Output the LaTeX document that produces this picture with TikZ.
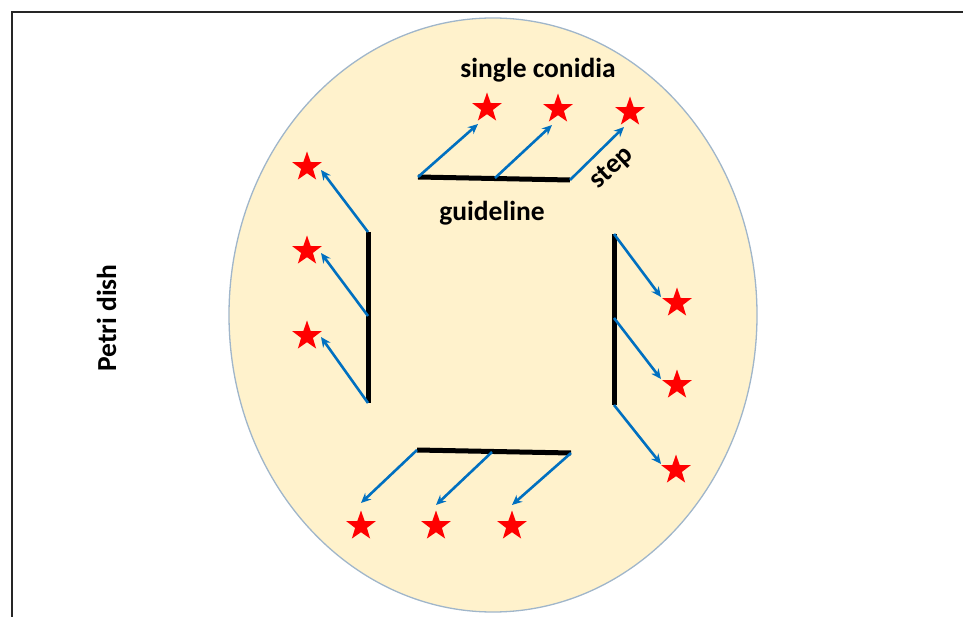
\documentclass[tikz,border=0pt]{standalone}
\usepackage{fontspec}
\setmainfont{Carlito}
\usetikzlibrary{shapes.geometric,arrows.meta}
\definecolor{dishfill}{RGB}{255,242,204}
\definecolor{dishline}{RGB}{160,182,202}
\definecolor{arrowblue}{RGB}{0,112,192}
\definecolor{conidred}{RGB}{255,0,0}
\tikzset{
  conidium/.style={star, star points=5, star point ratio=2.5, fill=conidred,
    draw=none, minimum size=31pt, inner sep=0pt},
  guide/.style={line width=5pt, black},
  spread/.style={arrowblue, line width=2.6pt, -{Stealth[length=10pt,width=9pt]}},
  lbl/.style={font=\bfseries\fontsize{27.5}{30}\selectfont, inner sep=0pt}
}
\begin{document}
\begin{tikzpicture}[x=1pt,y=-1pt]
\useasboundingbox (0,0) rectangle (963,617);
% frame
\draw[line width=2.4pt, black!85] (12,617) -- (12,12) -- (963,12);
% petri dish
\node[ellipse, draw=dishline, line width=1.3pt, fill=dishfill,
  minimum width=528pt, minimum height=594pt, inner sep=0pt] (dish) at (493,315) {};

% guidelines
\coordinate (tA) at (418,177); \coordinate (tB) at (495,178); \coordinate (tC) at (570,180);
\coordinate (lA) at (368,232); \coordinate (lB) at (368,316); \coordinate (lC) at (368,403);
\coordinate (rA) at (614,234); \coordinate (rB) at (614,318); \coordinate (rC) at (614,405);
\coordinate (bA) at (417,450); \coordinate (bB) at (492,452); \coordinate (bC) at (571,453);
\draw[guide] (tA) -- (tC);
\draw[guide] (lA) -- (lC);
\draw[guide] (rA) -- (rC);
\draw[guide] (bA) -- (bC);

% single conidia
\node[conidium] (s1) at (487,108) {};
\node[conidium] (s2) at (558,109) {};
\node[conidium] (s3) at (630,112) {};
\node[conidium] (s4) at (307,167) {};
\node[conidium] (s5) at (307,251) {};
\node[conidium] (s6) at (307,336) {};
\node[conidium] (s7) at (677,303) {};
\node[conidium] (s8) at (677,385) {};
\node[conidium] (s9) at (676,470) {};
\node[conidium] (s10) at (361,526) {};
\node[conidium] (s11) at (436,526) {};
\node[conidium] (s12) at (512,526) {};

% arrow tips next to each conidium
\coordinate (e1) at (478,124); \coordinate (e2) at (552,125); \coordinate (e3) at (624,127);
\coordinate (e4) at (321,170); \coordinate (e5) at (321,253); \coordinate (e6) at (321,337);
\coordinate (e7) at (661,297); \coordinate (e8) at (661,379); \coordinate (e9) at (661,464);
\coordinate (e10) at (361,503); \coordinate (e11) at (436,505); \coordinate (e12) at (512,505);

\draw[spread] (tA) -- (e1);
\draw[spread] (tB) -- (e2);
\draw[spread] (tC) -- (e3);
\draw[spread] (lA) -- (e4);
\draw[spread] (lB) -- (e5);
\draw[spread] (lC) -- (e6);
\draw[spread] (rA) -- (e7);
\draw[spread] (rB) -- (e8);
\draw[spread] (rC) -- (e9);
\draw[spread] (bA) -- (e10);
\draw[spread] (bB) -- (e11);
\draw[spread] (bC) -- (e12);

% labels
\node[lbl, anchor=base] (conidia) at (538,78) {single conidia};
\node[lbl, anchor=base] (guidelbl) at (492,221) {guideline};
\node[lbl, rotate=43] (steplbl) at (612,168) {step};
\node[lbl, rotate=90, anchor=base] (petri) at (116,318) {Petri dish};
\end{tikzpicture}
\end{document}
